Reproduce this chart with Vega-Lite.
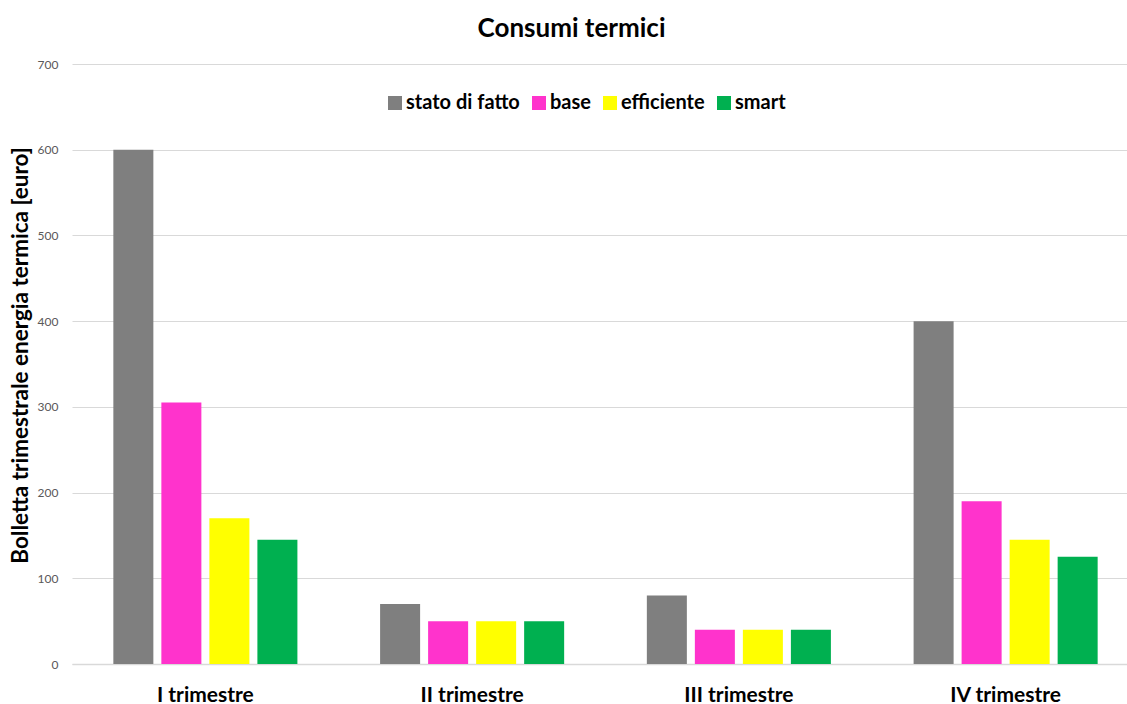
{
  "$schema": "https://vega.github.io/schema/vega-lite/v6.json",
  "autosize": "none",
  "width": 1055,
  "height": 600,
  "padding": {"left": 72, "top": 64, "right": 0, "bottom": 40},
  "background": "white",
  "config": {
    "font": "Lato",
    "view": {"stroke": null}
  },
  "title": {
    "text": "Consumi termici",
    "fontSize": 26,
    "fontWeight": "bold",
    "color": "#000000",
    "anchor": "middle",
    "dx": -28,
    "offset": 16
  },
  "data": {
    "values": [
      {"trimestre": "I trimestre", "scenario": "stato di fatto", "euro": 600},
      {"trimestre": "I trimestre", "scenario": "base", "euro": 305},
      {"trimestre": "I trimestre", "scenario": "efficiente", "euro": 170},
      {"trimestre": "I trimestre", "scenario": "smart", "euro": 145},
      {"trimestre": "II trimestre", "scenario": "stato di fatto", "euro": 70},
      {"trimestre": "II trimestre", "scenario": "base", "euro": 50},
      {"trimestre": "II trimestre", "scenario": "efficiente", "euro": 50},
      {"trimestre": "II trimestre", "scenario": "smart", "euro": 50},
      {"trimestre": "III trimestre", "scenario": "stato di fatto", "euro": 80},
      {"trimestre": "III trimestre", "scenario": "base", "euro": 40},
      {"trimestre": "III trimestre", "scenario": "efficiente", "euro": 40},
      {"trimestre": "III trimestre", "scenario": "smart", "euro": 40},
      {"trimestre": "IV trimestre", "scenario": "stato di fatto", "euro": 400},
      {"trimestre": "IV trimestre", "scenario": "base", "euro": 190},
      {"trimestre": "IV trimestre", "scenario": "efficiente", "euro": 145},
      {"trimestre": "IV trimestre", "scenario": "smart", "euro": 125}
    ]
  },
  "mark": {"type": "bar"},
  "encoding": {
    "x": {
      "field": "trimestre",
      "type": "nominal",
      "sort": ["I trimestre", "II trimestre", "III trimestre", "IV trimestre"],
      "scale": {"range": [0, 1067], "paddingInner": 0.31, "paddingOuter": 0.155},
      "axis": {
        "title": null,
        "labelAngle": 0,
        "labelFontSize": 21,
        "labelFontWeight": "bold",
        "labelColor": "#000000",
        "labelPadding": 20,
        "ticks": false,
        "domainColor": "#d9d9d9",
        "domainWidth": 1.5,
        "grid": false
      }
    },
    "xOffset": {
      "field": "scenario",
      "type": "nominal",
      "sort": ["stato di fatto", "base", "efficiente", "smart"],
      "scale": {"paddingInner": 0.1667, "paddingOuter": 0}
    },
    "y": {
      "field": "euro",
      "type": "quantitative",
      "scale": {"domain": [0, 700], "nice": false},
      "axis": {
        "title": "Bolletta trimestrale energia termica [euro]",
        "titleFontSize": 22.5,
        "titleFontWeight": "bold",
        "titleColor": "#000000",
        "titleAngle": -90,
        "titleX": -52,
        "titleY": 291,
        "titleAlign": "center",
        "titleBaseline": "middle",
        "values": [0, 100, 200, 300, 400, 500, 600, 700],
        "labelFontSize": 12,
        "labelColor": "#595959",
        "labelPadding": 14,
        "ticks": false,
        "domain": false,
        "gridColor": "#d9d9d9",
        "gridWidth": 1
      }
    },
    "color": {
      "field": "scenario",
      "type": "nominal",
      "sort": ["stato di fatto", "base", "efficiente", "smart"],
      "scale": {
        "domain": ["stato di fatto", "base", "efficiente", "smart"],
        "range": ["#7f7f7f", "#ff33cc", "#ffff00", "#00b050"]
      },
      "legend": {
        "title": null,
        "orient": "none",
        "direction": "horizontal",
        "legendX": 313,
        "legendY": 29,
        "symbolType": "square",
        "symbolSize": 196,
        "symbolStrokeWidth": 0,
        "labelFontSize": 20,
        "labelFontWeight": "bold",
        "labelColor": "#000000",
        "labelOffset": 1,
        "columnPadding": 9
      }
    }
  }
}
